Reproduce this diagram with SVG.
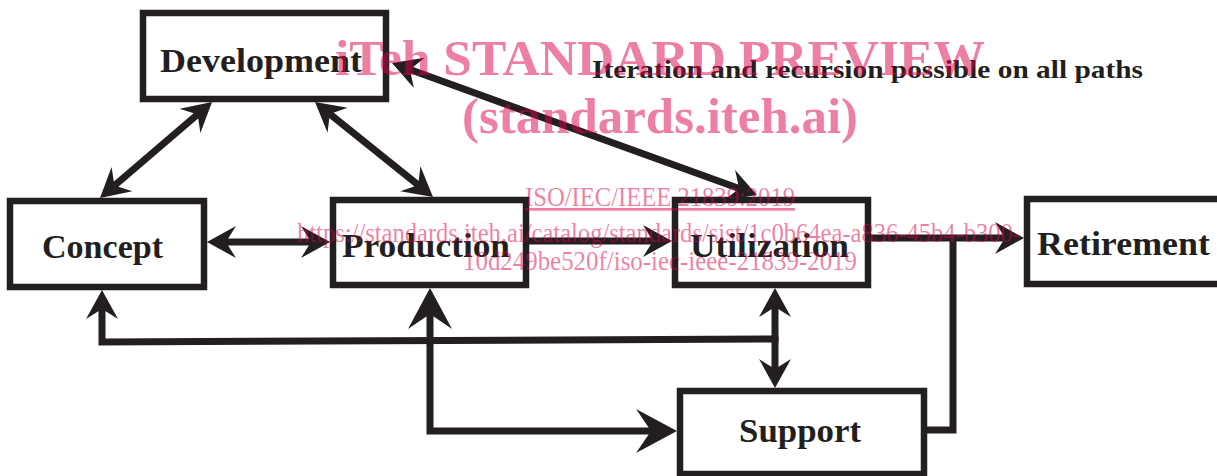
<svg xmlns="http://www.w3.org/2000/svg" width="1217" height="476" viewBox="0 0 1217 476">
<defs>
<style>
.box{fill:#fff;stroke:#231f20;stroke-width:6.5}
.lbl{font-family:"Liberation Serif",serif;font-weight:bold;font-size:33px;fill:#231f20;text-anchor:middle}
.con{fill:none;stroke:#231f20;stroke-width:7;stroke-linejoin:miter}
.wm{font-family:"Liberation Serif",serif;fill:rgb(220,0,70);fill-opacity:0.5}
.wmb{font-weight:bold;font-size:50px}
.wms{font-size:27px}
</style>
<marker id="a" markerUnits="userSpaceOnUse" markerWidth="60" markerHeight="60" viewBox="-30 -30 60 60" refX="0" refY="0" orient="auto-start-reverse"><path d="M19,0 L-10,-16 L0,0 L-10,16 Z" fill="#231f20"/></marker>
<marker id="b" markerUnits="userSpaceOnUse" markerWidth="60" markerHeight="60" viewBox="-30 -30 60 60" refX="0" refY="0" orient="auto-start-reverse"><path d="M26,0 L-15,-22 L0,0 L-15,22 Z" fill="#231f20"/></marker>
</defs>
<rect width="1217" height="476" fill="#fff"/>
<g id="connectors">
<path class="con" d="M114.4,185.6 L197.6,114.4" marker-start="url(#a)" marker-end="url(#a)"/>
<path class="con" d="M418.2,185.1 L329.8,113.9" marker-start="url(#a)" marker-end="url(#a)"/>
<path class="con" d="M739.1,188.5 L409.9,69.5" marker-start="url(#a)" marker-end="url(#a)"/>
<path class="con" d="M226,242 L311,242" marker-start="url(#a)" marker-end="url(#a)"/>
<path class="con" d="M527,241 L653,241" marker-end="url(#a)"/>
<path class="con" d="M869,238 L1005,238" marker-end="url(#a)"/>
<path class="con" d="M925,430 L953,430 L953,235"/>
<path class="con" d="M775,307 L775,369" marker-start="url(#a)" marker-end="url(#a)"/>
<path class="con" d="M778.5,339 L102,342 L102,309" marker-end="url(#a)"/>
<path class="con" d="M430,314 L430,431 L651,431" marker-start="url(#b)" marker-end="url(#b)"/>
</g>
<g id="development"><rect class="box" x="143" y="13" width="243" height="86"/><text class="lbl" x="261" y="72" textLength="202" lengthAdjust="spacingAndGlyphs">Development</text></g>
<g id="concept"><rect class="box" x="10" y="201" width="194" height="86"/><text class="lbl" x="102.5" y="258" textLength="121" lengthAdjust="spacingAndGlyphs">Concept</text></g>
<g id="production"><rect class="box" x="333" y="200" width="193" height="85"/><text class="lbl" x="426" y="257" textLength="168" lengthAdjust="spacingAndGlyphs">Production</text></g>
<g id="utilization"><rect class="box" x="675" y="200" width="193" height="85"/><text class="lbl" x="769.5" y="257" textLength="159" lengthAdjust="spacingAndGlyphs">Utilization</text></g>
<g id="retirement"><rect class="box" x="1027" y="199" width="200" height="85"/><text class="lbl" x="1123.5" y="255" textLength="173" lengthAdjust="spacingAndGlyphs">Retirement</text></g>
<g id="support"><rect class="box" x="680" y="391" width="244" height="83"/><text class="lbl" x="800" y="442" textLength="122" lengthAdjust="spacingAndGlyphs">Support</text></g>
<g id="note"><text x="592" y="78" font-family="Liberation Serif, serif" font-weight="bold" font-size="25" fill="#231f20" textLength="551" lengthAdjust="spacingAndGlyphs">Iteration and recursion possible on all paths</text></g>
<g id="watermark" class="wm">
<text class="wmb" x="335" y="75" textLength="650" lengthAdjust="spacingAndGlyphs">iTeh STANDARD PREVIEW</text>
<text class="wmb" x="462" y="133" textLength="396" lengthAdjust="spacingAndGlyphs">(standards.iteh.ai)</text>
<text class="wms" x="525" y="206" textLength="270" lengthAdjust="spacingAndGlyphs" text-decoration="underline">ISO/IEC/IEEE 21839:2019</text>
<text class="wms" x="297" y="242" textLength="724" lengthAdjust="spacingAndGlyphs">https://standards.iteh.ai/catalog/standards/sist/1c0b64ea-a836-45b4-b300-</text>
<text class="wms" x="463" y="270" textLength="394" lengthAdjust="spacingAndGlyphs">10d249be520f/iso-iec-ieee-21839-2019</text>
</g>
</svg>
